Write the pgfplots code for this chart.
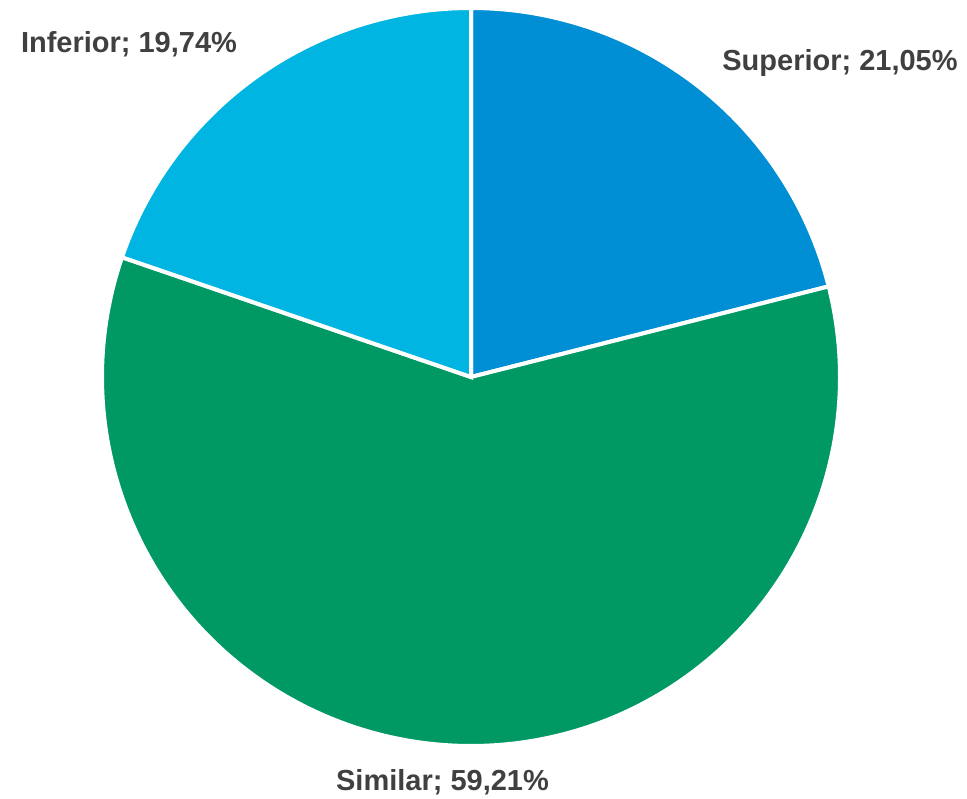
\documentclass[border=0pt]{standalone}
\usepackage{pgfplots}
\pgfplotsset{compat=1.18}
\usepackage{fontspec}
\setmainfont{Liberation Sans}
\definecolor{csup}{RGB}{0,143,213}
\definecolor{csim}{RGB}{0,153,99}
\definecolor{cinf}{RGB}{0,181,226}
\definecolor{ctxt}{RGB}{64,64,64}
% data (percentages)
\def\vSup{21.05}
\def\vSim{59.21}
\def\vInf{19.74}
\begin{document}
\begin{tikzpicture}
\pgfmathsetmacro\aA{90}
\pgfmathsetmacro\aB{90-3.6*\vSup}
\pgfmathsetmacro\aC{\aB-3.6*\vSim}
\pgfmathsetmacro\aD{\aC-3.6*\vInf}
\begin{axis}[
  scale only axis, width=483.5pt, height=399pt,
  xmin=0, xmax=967, ymin=0, ymax=798,
  hide axis, clip=false,
]
\path (rel axis cs:0,0) rectangle (rel axis cs:1,1);
\addplot[fill=csup, draw=white, line width=2pt, domain=\aB:\aA, samples=120, variable=\t]
  ({471+369*cos(\t)},{421+369*sin(\t)}) -- (axis cs:471,421) -- cycle;
\addplot[fill=csim, draw=white, line width=2pt, domain=\aC:\aB, samples=240, variable=\t]
  ({471+369*cos(\t)},{421+369*sin(\t)}) -- (axis cs:471,421) -- cycle;
\addplot[fill=cinf, draw=white, line width=2pt, domain=\aD:\aC, samples=120, variable=\t]
  ({471+369*cos(\t)},{421+369*sin(\t)}) -- (axis cs:471,421) -- cycle;
\begin{scope}[every node/.style={text=ctxt, font=\fontsize{14.5}{17}\selectfont\bfseries, inner sep=0pt}]
\node at (axis cs:840,735) {Superior; 21,05\%};
\node at (axis cs:129,754) {Inferior; 19,74\%};
\node at (axis cs:442.5,16) {Similar; 59,21\%};
\end{scope}
\end{axis}
\end{tikzpicture}
\end{document}
